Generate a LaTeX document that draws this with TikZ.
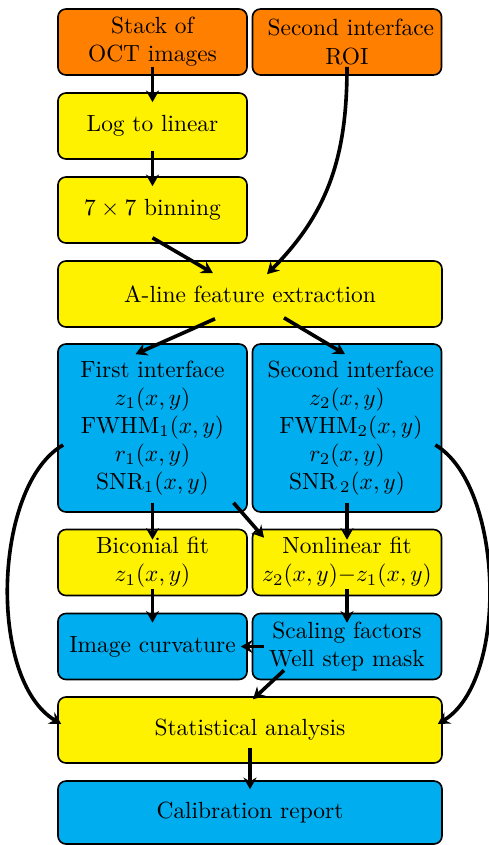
\documentclass[tikz,border=0pt]{standalone}
\usetikzlibrary{arrows.meta,calc}
\definecolor{boxorange}{RGB}{255,128,0}
\definecolor{boxyellow}{RGB}{255,242,0}
\definecolor{boxblue}{RGB}{0,174,239}
\begin{document}
\begin{tikzpicture}[x=0.4274pt,y=-0.4274pt,
  box/.style={draw=black,line width=0.7pt,rounded corners=3.4pt,inner sep=0pt,align=center,minimum width=80.8pt,minimum height=28.2pt},
  widebox/.style={box,minimum width=164.1pt},
  tallbox/.style={box,minimum height=71.8pt},
  flow/.style={line width=1.55pt,-{Stealth[length=5pt,width=5.6pt,inset=1.7pt]}}]
\useasboundingbox (0,0) rectangle (488,845);
\node[box,fill=boxorange] (stack) at (152.5,42) {Stack of\\OCT images};
\node[box,fill=boxorange] (roi) at (347,42) {\ Second interface\\ROI};
\node[box,fill=boxyellow] (log) at (152.5,126) {Log to linear};
\node[box,fill=boxyellow] (bin) at (152.5,210) {$7\times7$ binning};
\node[widebox,fill=boxyellow] (aline) at (250,294) {A-line feature extraction};
\node[tallbox,fill=boxblue] (first) at (152.5,428) {First interface\\$z_1(x,y)$\\$\mathrm{FWHM}_1(x,y)$\\$r_1(x,y)$\\$\mathrm{SNR}_1(x,y)$};
\node[tallbox,fill=boxblue] (second) at (347,428) {\ Second interface\\$z_2(x,y)$\\\ $\mathrm{FWHM}_2(x,y)$\\$r_2(x,y)$\\$\mathrm{SNR}_{\,2}(x,y)$};
\node[box,fill=boxyellow] (bic) at (152.5,562.5) {Biconial fit\\$z_1(x,y)$};
\node[box,fill=boxyellow] (nonlin) at (347,562.5) {Nonlinear fit\\$z_2(x,y){-}z_1(x,y)$};
\node[box,fill=boxblue] (curv) at (152.5,646.5) {Image curvature};
\node[box,fill=boxblue] (scal) at (347,646.5) {Scaling factors\\Well step mask};
\node[widebox,fill=boxyellow] (stat) at (250,730) {Statistical analysis};
\node[widebox,fill=boxblue,minimum height=26.9pt] (calib) at (250,812.5) {Calibration report};
% connectors
\draw[flow] ($(stack.south)+(0,-9)$) -- ($(log.north)+(0,10)$);
\draw[flow] ($(log.south)+(0,-9)$) -- ($(bin.north)+(0,10)$);
\draw[flow] ($(bin.south)+(0,-6)$) -- ($(aline.north)+(-37,13)$);
\draw[flow] ($(roi.south)+(0,-9)$) .. controls +(0,88) and +(62,-62) .. ($(aline.north)+(17,14)$);
\draw[flow] ($(aline.south)+(-35,-9)$) -- ($(first.north)+(-17,11)$);
\draw[flow] ($(aline.south)+(34,-10)$) -- ($(second.north)+(-2,11)$);
\draw[flow] ($(first.south)+(0,-10)$) -- ($(bic.north)+(0,11)$);
\draw[flow] ($(first.south)+(81,-10)$) -- ($(nonlin.north)+(-83,9)$);
\draw[flow] ($(second.south)+(0,-10)$) -- ($(nonlin.north)+(0,11)$);
\draw[flow] ($(first.west)+(6,17)$) .. controls +(-70,40) and +(-74,-44) .. ($(stat.west)+(4,-6)$);
\draw[flow] ($(second.east)+(-7,17)$) .. controls +(68,40) and +(72,-44) .. ($(stat.east)+(-5,-6)$);
\draw[flow] ($(bic.south)+(0,-7)$) -- ($(curv.north)+(0,10)$);
\draw[flow] ($(nonlin.south)+(0,-7)$) -- ($(scal.north)+(0,10)$);
\draw[flow] ($(scal.west)+(12,0)$) -- ($(curv.east)+(-7,0)$);
\draw[flow] ($(scal.south)+(-63,-10)$) -- ($(stat.north)+(3,3)$);
\draw[flow] ($(stat.south)+(0,-16)$) -- ($(calib.north)+(0,9)$);
\end{tikzpicture}
\end{document}
